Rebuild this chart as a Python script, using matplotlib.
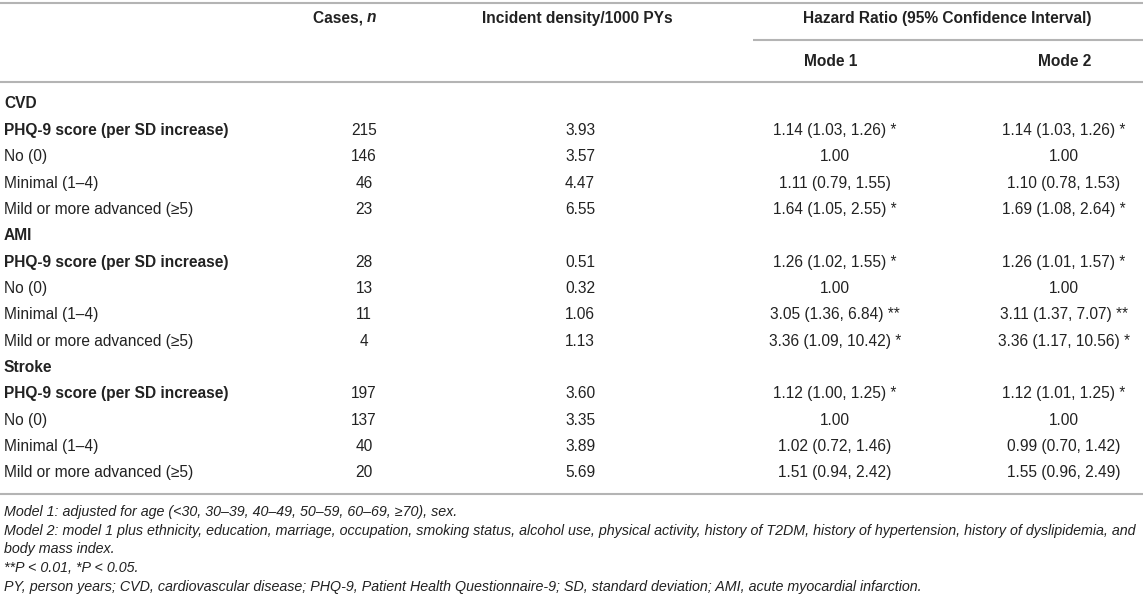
import matplotlib
matplotlib.use("Agg")
from matplotlib import pyplot as plt

plt.rcParams['font.family'] = ['Liberation Sans', 'DejaVu Sans']

# table content
outcomes = ["CVD", "AMI", "Stroke"]
levels = ["PHQ-9 score (per SD increase)", "No (0)", "Minimal (1\u20134)",
          "Mild or more advanced (\u22655)"]
cases = [[215, 146, 46, 23], [28, 13, 11, 4], [197, 137, 40, 20]]
density = [["3.93", "3.57", "4.47", "6.55"],
           ["0.51", "0.32", "1.06", "1.13"],
           ["3.60", "3.35", "3.89", "5.69"]]
model1 = [["1.14 (1.03, 1.26) *", "1.00", "1.11 (0.79, 1.55)", "1.64 (1.05, 2.55) *"],
          ["1.26 (1.02, 1.55) *", "1.00", "3.05 (1.36, 6.84) **", "3.36 (1.09, 10.42) *"],
          ["1.12 (1.00, 1.25) *", "1.00", "1.02 (0.72, 1.46)", "1.51 (0.94, 2.42)"]]
model2 = [["1.14 (1.03, 1.26) *", "1.00", "1.10 (0.78, 1.53)", "1.69 (1.08, 2.64) *"],
          ["1.26 (1.01, 1.57) *", "1.00", "3.11 (1.37, 7.07) **", "3.36 (1.17, 10.56) *"],
          ["1.12 (1.01, 1.25) *", "1.00", "0.99 (0.70, 1.42)", "1.55 (0.96, 2.49)"]]
footnotes = [
    "Model 1: adjusted for age (<30, 30\u201339, 40\u201349, 50\u201359, 60\u201369, \u226570), sex.",
    "Model 2: model 1 plus ethnicity, education, marriage, occupation, smoking status, alcohol use, "
    "physical activity, history of T2DM, history of hypertension, history of dyslipidemia, and",
    "body mass index.",
    "**P < 0.01, *P < 0.05.",
    "PY, person years; CVD, cardiovascular disease; PHQ-9, Patient Health Questionnaire-9; "
    "SD, standard deviation; AMI, acute myocardial infarction.",
]

W, H = 1143, 602
fig = plt.figure(figsize=(W / 100, H / 100), dpi=100)
ax = fig.add_axes([0, 0, 1, 1])
ax.set_xlim(0, W)
ax.set_ylim(H, 0)
ax.axis("off")

txt = "#222222"
line_c = "#b4b4b4"
fs = 11.2

# columns
x_lab, x_cases, x_dens, x_m1, x_m2 = 4, 364, 580, 835, 1064

# rules
ax.hlines([3, 82], 0, W, color=line_c, lw=1.5)
ax.hlines(40, 753, W, color=line_c, lw=1.5)

# header
hy = 18
ax.text(367, hy, "Cases, ", ha="right", va="center", fontsize=fs, fontweight="bold", color=txt)
ax.text(367, hy, "n", ha="left", va="center", fontsize=fs, fontweight="bold",
        fontstyle="italic", color=txt)
ax.text(577, hy, "Incident density/1000 PYs", ha="center", va="center", fontsize=fs,
        fontweight="bold", color=txt)
ax.text(947, hy, "Hazard Ratio (95% Confidence Interval)", ha="center", va="center",
        fontsize=fs, fontweight="bold", color=txt)
ax.text(831, 61, "Mode 1", ha="center", va="center", fontsize=fs, fontweight="bold", color=txt)
ax.text(1065, 61, "Mode 2", ha="center", va="center", fontsize=fs, fontweight="bold", color=txt)

# body
y0, dy = 104, 26.35
row = 0
for g, name in enumerate(outcomes):
    y = y0 + row * dy
    ax.text(x_lab, y, name, ha="left", va="center", fontsize=fs, fontweight="bold", color=txt)
    row += 1
    for k, lev in enumerate(levels):
        y = y0 + row * dy
        ax.text(x_lab, y, lev, ha="left", va="center", fontsize=fs,
                fontweight="bold" if k == 0 else "normal", color=txt)
        ax.text(x_cases, y, str(cases[g][k]), ha="center", va="center", fontsize=fs, color=txt)
        ax.text(x_dens, y, density[g][k], ha="center", va="center", fontsize=fs, color=txt)
        ax.text(x_m1, y, model1[g][k], ha="center", va="center", fontsize=fs, color=txt)
        ax.text(x_m2, y, model2[g][k], ha="center", va="center", fontsize=fs, color=txt)
        row += 1

y_bot = y0 + (row - 1) * dy + 21
ax.hlines(y_bot, 0, W, color=line_c, lw=1.5)

for i, note in enumerate(footnotes):
    ax.text(x_lab, y_bot + 18 + i * 18.8, note, ha="left", va="center", fontsize=10.3,
            fontstyle="italic", color=txt)

fig.savefig("out.png", dpi=100)
